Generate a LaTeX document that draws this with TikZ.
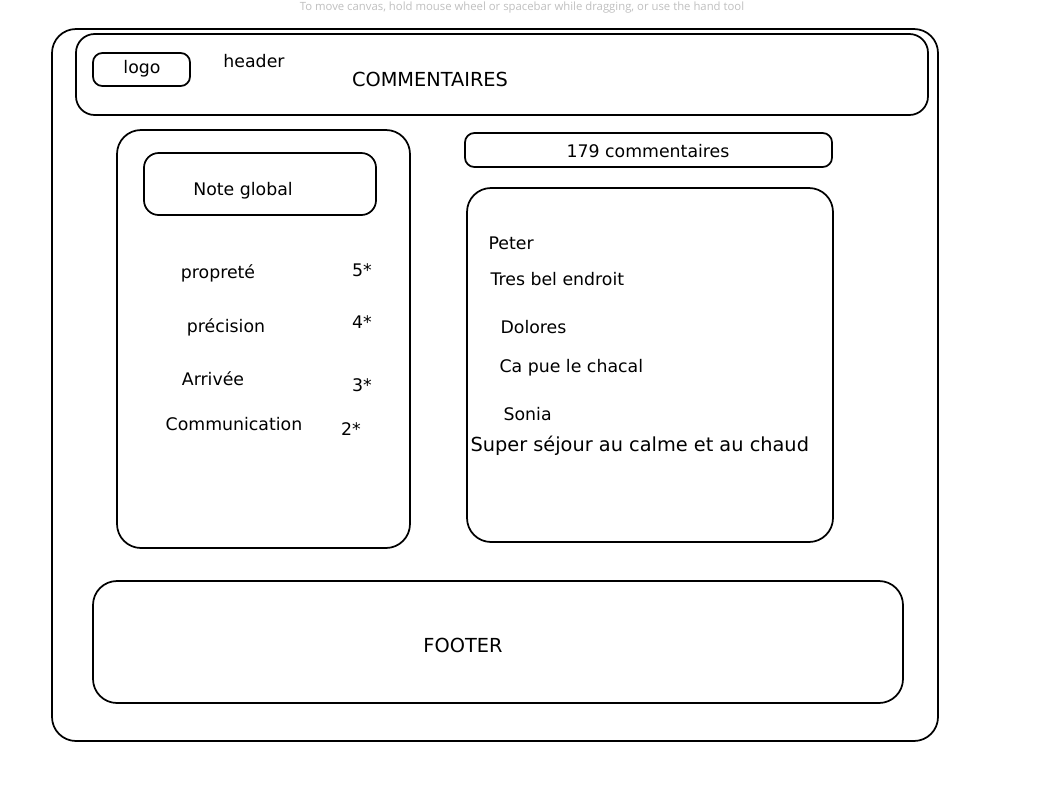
\documentclass[tikz,border=0pt]{standalone}
\usepackage{fontspec}
\setmainfont{DejaVu Sans}
\newfontfamily\hintfont{Open Sans}
\usetikzlibrary{positioning}

\begin{document}
\begin{tikzpicture}[x=0.75pt,y=-0.75pt]
			\tikzset{frame/.style = {draw, line width=1.3pt, rounded corners=18pt}}
			\tikzset{smallbox/.style = {draw, line width=1.3pt, rounded corners=7pt}}
			\tikzset{lbl/.style = {inner sep=1pt, font=\fontsize{13}{15}\selectfont}}
			\tikzset{lblw/.style = {lbl, anchor=west}}
			\tikzset{big/.style = {font=\fontsize{14.5}{17}\selectfont}}
			\tikzset{hint/.style = {inner sep=0pt, text=black!25, font=\hintfont\fontsize{8.5}{10}\selectfont}}
			\useasboundingbox (0,0) rectangle (1047,786);
			
			\node[hint] (tip) at (522,8) {To move canvas, hold mouse wheel or spacebar while dragging, or use the hand tool};
			
			% frames
			\draw[frame] (52,29) rectangle (938,741);
			\draw[frame, rounded corners=14pt] (76,34) rectangle (928,115);
			\draw[smallbox] (93,53) rectangle (190,86);
			\draw[frame] (117,130) rectangle (410,548);
			\draw[frame, rounded corners=11pt] (144,153) rectangle (376,215);
			\draw[smallbox] (465,133) rectangle (832,167);
			\draw[frame] (467,188) rectangle (833,542);
			\draw[frame] (93,581) rectangle (903,703);
			
			% header
			\node[lbl] (logo) at (142,69) {logo};
			\node[lbl] (hdr) at (254,61) {header};
			\node[lbl, big] (title) at (430,79) {COMMENTAIRES};
			
			% notes
			\node[lbl] (glob) at (243,191) {Note global};
			\node[lbl] (n1) at (218,273) {propreté};
			\node[lbl] (n2) at (226,327) {précision};
			\node[lbl] (n3) at (213,379) {Arrivée};
			\node[lbl] (n4) at (234,424) {Communication};
			\node[lbl] (s1) at (362,270) {5*};
			\node[lbl] (s2) at (362,322) {4*};
			\node[lbl] (s3) at (362,385) {3*};
			\node[lbl] (s4) at (351,429) {2*};
			
			% commentaires
			\node[lbl] (count) at (648,151) {179 commentaires};
			\node[lblw] (c1) at (487,243) {Peter};
			\node[lblw] (c2) at (489,279) {Tres bel endroit};
			\node[lblw] (c3) at (499,327) {Dolores};
			\node[lblw] (c4) at (498,368) {Ca pue le chacal};
			\node[lblw] (c5) at (502,414) {Sonia};
			\node[lblw, big] (c6) at (469,446) {Super séjour au calme et au chaud};
			
			% footer
			\node[lbl, big] (foot) at (463,645) {FOOTER};
			
\end{tikzpicture}
\end{document}
